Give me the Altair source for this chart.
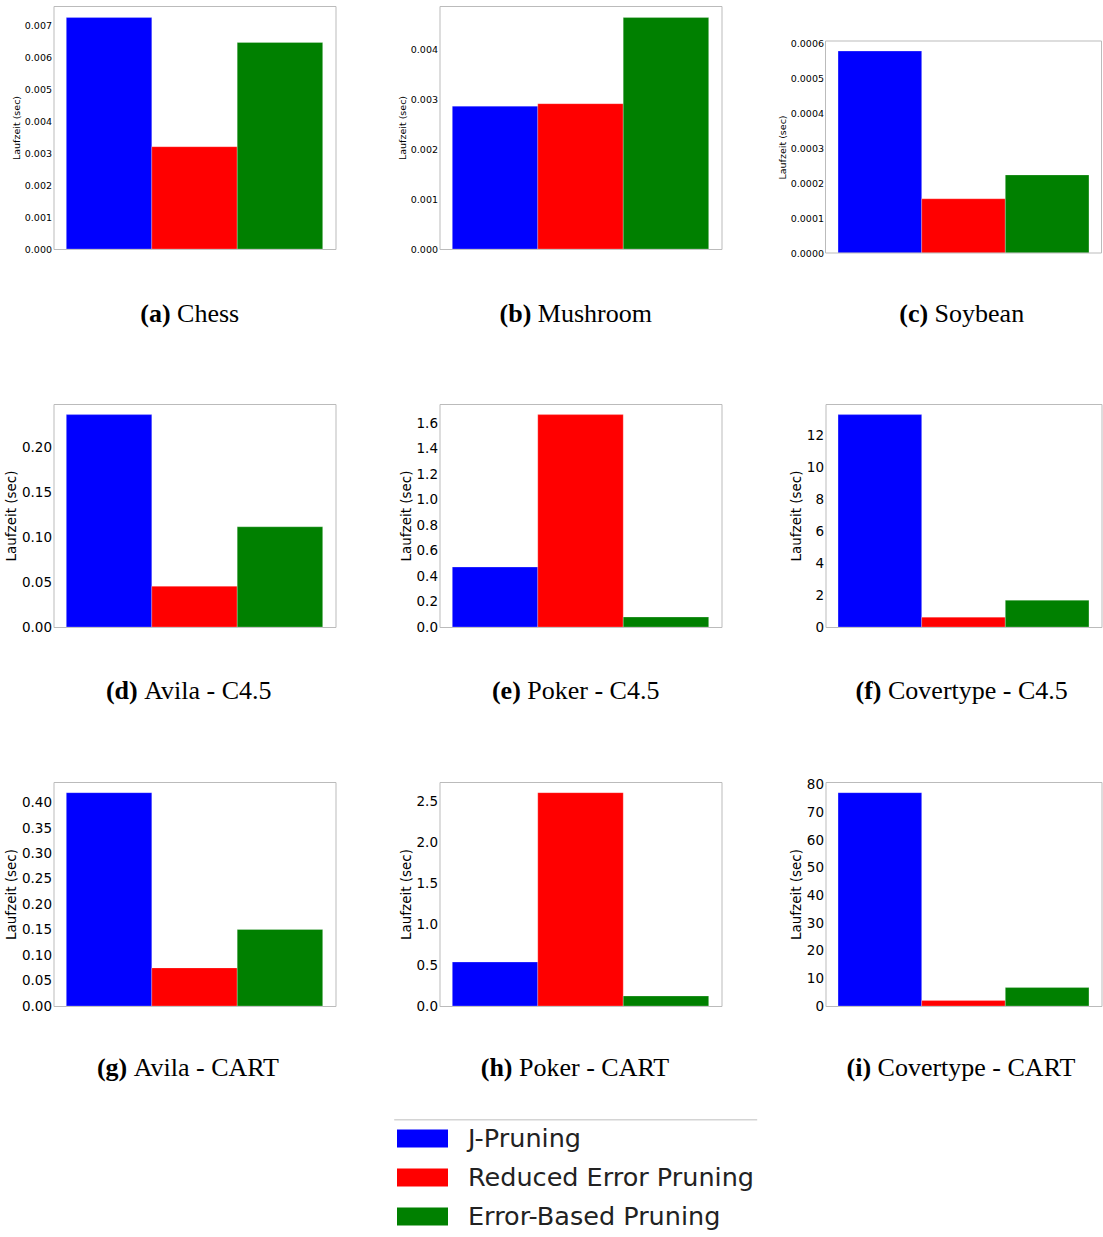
import altair as alt
import pandas as pd

# ---------------- data ----------------
methods = ["J-Pruning", "Reduced Error Pruning", "Error-Based Pruning"]
colors = ["#0000ff", "#ff0000", "#008000"]

chess = [0.00724, 0.00320, 0.00646]
mushroom = [0.00287, 0.00292, 0.00465]
soybean = [0.000577, 0.000155, 0.000223]
avila_c45 = [0.2365, 0.0453, 0.1116]
poker_c45 = [0.470, 1.666, 0.078]
covertype_c45 = [13.34, 0.62, 1.68]
avila_cart = [0.4197, 0.0749, 0.1505]
poker_cart = [0.537, 2.607, 0.122]
covertype_cart = [77.2, 1.96, 6.67]

ticks_a = [0.0, 0.001, 0.002, 0.003, 0.004, 0.005, 0.006, 0.007]
ticks_b = [0.0, 0.001, 0.002, 0.003, 0.004]
ticks_c = [0.0, 0.0001, 0.0002, 0.0003, 0.0004, 0.0005, 0.0006]
ticks_d = [0.0, 0.05, 0.10, 0.15, 0.20]
ticks_e = [0.0, 0.2, 0.4, 0.6, 0.8, 1.0, 1.2, 1.4, 1.6]
ticks_f = [0, 2, 4, 6, 8, 10, 12]
ticks_g = [0.0, 0.05, 0.10, 0.15, 0.20, 0.25, 0.30, 0.35, 0.40]
ticks_h = [0.0, 0.5, 1.0, 1.5, 2.0, 2.5]
ticks_i = [0, 10, 20, 30, 40, 50, 60, 70, 80]

letters = ["a", "b", "c", "d", "e", "f", "g", "h", "i"]
names = ["Chess", "Mushroom", "Soybean",
         "Avila - C4.5", "Poker - C4.5", "Covertype - C4.5",
         "Avila - CART", "Poker - CART", "Covertype - CART"]
series = [chess, mushroom, soybean, avila_c45, poker_c45, covertype_c45,
          avila_cart, poker_cart, covertype_cart]
ticks = [ticks_a, ticks_b, ticks_c, ticks_d, ticks_e, ticks_f, ticks_g, ticks_h, ticks_i]
formats = [".3f", ".3f", ".4f", ".2f", ".1f", "d", ".2f", ".1f", "d"]

# Times / Liberation Serif advance widths (per 1000 em)
TR = {" ": 250, "C": 667, "h": 500, "e": 444, "s": 389, "M": 889, "u": 500, "r": 333,
      "o": 500, "m": 778, "S": 556, "y": 500, "b": 500, "a": 444, "n": 500, "A": 722,
      "v": 500, "i": 278, "l": 278, "-": 333, "4": 500, ".": 250, "5": 500, "P": 556,
      "k": 500, "t": 278, "p": 500, "R": 667, "T": 611}
TB = {"(": 333, ")": 333, "a": 500, "b": 556, "c": 444, "d": 556, "e": 444, "f": 333,
      "g": 500, "h": 556, "i": 278}

TITLE_FS = 26


def tw(s, table):
    return sum(table[c] for c in s) * TITLE_FS / 1000.0


widths = [282, 282, 276]
heights = [243, 223, 224]
title_base = [316, 295, 294]
FRAME = "#bbbbbb"


def panel(k):
    r, c = divmod(k, 3)
    w, h = widths[c], heights[r]
    vals = series[k]
    df = pd.DataFrame({"method": methods, "value": vals})
    fs = 9.5 if r == 0 else 13.5
    ymax = max(vals) * 1.05
    if k == 2:
        yscale = alt.Scale(domain=[0, ymax], nice=False, zero=True, range=[247, 35])
    else:
        yscale = alt.Scale(domain=[0, ymax], nice=False, zero=True)
    bars = alt.Chart(df).mark_bar(stroke="white", strokeWidth=0.4, strokeOpacity=0.6).encode(
        x=alt.X("method:N", sort=methods,
                scale=alt.Scale(domain=methods, paddingInner=0, paddingOuter=0.15),
                axis=None),
        y=alt.Y("value:Q", scale=yscale,
                axis=alt.Axis(values=ticks[k], format=formats[k], title="Laufzeit (sec)",
                              labelFont="DejaVu Sans", titleFont="DejaVu Sans",
                              labelFontSize=fs, titleFontSize=fs, titleFontWeight="normal",
                              labelColor="#000000", titleColor="#000000",
                              ticks=False, domain=False, grid=False,
                              labelPadding=2, titlePadding=3, labelOverlap=False)),
        color=alt.Color("method:N",
                        scale=alt.Scale(domain=methods, range=colors),
                        legend=alt.Legend(
                            orient="none", legendX=343.5, legendY=1107,
                            direction="vertical", title=None, padding=0,
                            symbolType="M-1,-0.353H1V0.353H-1Z", symbolSize=2601,
                            symbolStrokeWidth=0, symbolOpacity=1,
                            labelFont="DejaVu Sans", labelFontSize=25.5,
                            labelColor="#222222", labelOffset=20, rowPadding=0,
                            labelLimit=500)),
    )
    bold = "(" + letters[k] + ")"
    rest = names[k]
    W = tw(bold, TB) + tw(" " + rest, TR)
    x0 = 136.2 - W / 2.0
    one = pd.DataFrame({"k": [0]})
    t1 = alt.Chart(one).mark_text(text=bold, align="left", baseline="alphabetic",
                                  font="Liberation Serif", fontSize=TITLE_FS,
                                  fontWeight="bold", color="#000000").encode(
        x=alt.value(x0), y=alt.value(title_base[r]))
    t2 = alt.Chart(one).mark_text(text=rest, align="left", baseline="alphabetic",
                                  font="Liberation Serif", fontSize=TITLE_FS,
                                  fontWeight="normal", color="#000000").encode(
        x=alt.value(x0 + tw(bold, TB) + tw(" ", TR)), y=alt.value(title_base[r]))
    layers = [bars, t1, t2]
    if k == 2:
        frame = alt.Chart(one).mark_rect(fillOpacity=0, stroke=FRAME, strokeWidth=1).encode(
            x=alt.value(0), x2=alt.value(w), y=alt.value(35), y2=alt.value(247))
        layers.append(frame)
    if k == 7:
        line = alt.Chart(one).mark_rule(color="#d4d4d4", strokeWidth=1.5).encode(
            x=alt.value(-45.3), x2=alt.value(317.7), y=alt.value(337.7))
        layers.append(line)
    ch = alt.layer(*layers).properties(width=w, height=h)
    if k == 2:
        ch = ch.properties(view=alt.ViewBackground(strokeOpacity=0))
    return ch


charts = [panel(k) for k in range(9)]

chart = alt.concat(*charts, columns=3, bounds="flush",
                   spacing=alt.RowColnumber(row=155, column=104)).properties(
    padding={"left": 3.5, "top": 5, "right": 0, "bottom": 0},
    background="white",
).configure_view(stroke=FRAME, strokeWidth=1)

chart.save("out.html", embed_options={"renderer": "svg", "actions": False})
